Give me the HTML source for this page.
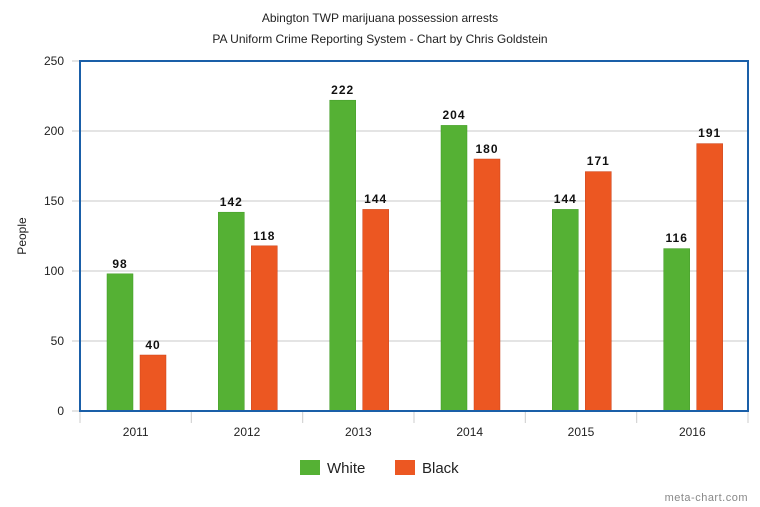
<!DOCTYPE html>
<html><head><meta charset="utf-8"><style>body{margin:0;background:#fff}svg{display:block}</style></head><body>
<svg width="760" height="507" xmlns="http://www.w3.org/2000/svg" font-family="Liberation Sans, sans-serif">
<rect width="760" height="507" fill="#fff"/>
<text x="380" y="22" font-size="12" text-anchor="middle" fill="#222">Abington TWP marijuana possession arrests</text>
<text x="380" y="43" font-size="12" text-anchor="middle" fill="#222">PA Uniform Crime Reporting System - Chart by Chris Goldstein</text>
<g stroke="#c8c8c8" stroke-width="1">
<line x1="72" y1="61" x2="748" y2="61"/><line x1="72" y1="131" x2="748" y2="131"/><line x1="72" y1="201" x2="748" y2="201"/><line x1="72" y1="271" x2="748" y2="271"/><line x1="72" y1="341" x2="748" y2="341"/><line x1="72" y1="411" x2="80" y2="411"/>
</g>
<g stroke="#ccc"><line x1="80" y1="411" x2="80" y2="423"/><line x1="191.3" y1="411" x2="191.3" y2="423"/><line x1="302.7" y1="411" x2="302.7" y2="423"/><line x1="414" y1="411" x2="414" y2="423"/><line x1="525.3" y1="411" x2="525.3" y2="423"/><line x1="636.7" y1="411" x2="636.7" y2="423"/><line x1="748" y1="411" x2="748" y2="423"/></g>
<g font-size="12" fill="#222" text-anchor="end">
<text x="64" y="65">250</text><text x="64" y="135">200</text><text x="64" y="205">150</text><text x="64" y="275">100</text><text x="64" y="345">50</text><text x="64" y="415">0</text></g>
<text transform="translate(26,236) rotate(-90)" font-size="12" text-anchor="middle" fill="#222">People</text>
<g font-size="12" fill="#222" text-anchor="middle">
<text x="135.7" y="436">2011</text><text x="247" y="436">2012</text><text x="358.3" y="436">2013</text><text x="469.7" y="436">2014</text><text x="581" y="436">2015</text><text x="692.3" y="436">2016</text></g>
<g id="bars">
<rect x="107" y="273.8" width="26" height="137.2" fill="#55b134" stroke="#3f9a22" stroke-width="0.5"/>
<rect x="140" y="355" width="26" height="56" fill="#ec5722" stroke="#c9421a" stroke-width="0.5"/>
<rect x="218.3" y="212.2" width="26" height="198.8" fill="#55b134" stroke="#3f9a22" stroke-width="0.5"/>
<rect x="251.3" y="245.8" width="26" height="165.2" fill="#ec5722" stroke="#c9421a" stroke-width="0.5"/>
<rect x="329.7" y="100.2" width="26" height="310.8" fill="#55b134" stroke="#3f9a22" stroke-width="0.5"/>
<rect x="362.7" y="209.4" width="26" height="201.6" fill="#ec5722" stroke="#c9421a" stroke-width="0.5"/>
<rect x="441" y="125.4" width="26" height="285.6" fill="#55b134" stroke="#3f9a22" stroke-width="0.5"/>
<rect x="474" y="159" width="26" height="252" fill="#ec5722" stroke="#c9421a" stroke-width="0.5"/>
<rect x="552.3" y="209.4" width="26" height="201.6" fill="#55b134" stroke="#3f9a22" stroke-width="0.5"/>
<rect x="585.3" y="171.6" width="26" height="239.4" fill="#ec5722" stroke="#c9421a" stroke-width="0.5"/>
<rect x="663.7" y="248.6" width="26" height="162.4" fill="#55b134" stroke="#3f9a22" stroke-width="0.5"/>
<rect x="696.7" y="143.6" width="26" height="267.4" fill="#ec5722" stroke="#c9421a" stroke-width="0.5"/>
</g>
<g font-size="12" font-weight="bold" fill="#111" text-anchor="middle" letter-spacing="1">
<text x="120" y="268">98</text><text x="153" y="349">40</text>
<text x="231.3" y="206">142</text><text x="264.3" y="240">118</text>
<text x="342.7" y="94">222</text><text x="375.7" y="203">144</text>
<text x="454" y="119">204</text><text x="487" y="153">180</text>
<text x="565.3" y="203">144</text><text x="598.3" y="165">171</text>
<text x="676.7" y="242">116</text><text x="709.7" y="137">191</text></g>
<rect x="80" y="61" width="668" height="350" fill="none" stroke="#1a5fa8" stroke-width="2"/>
<rect x="300" y="460" width="20" height="15" fill="#55b134"/>
<text x="327" y="473" font-size="15" fill="#222">White</text>
<rect x="395" y="460" width="20" height="15" fill="#ec5722"/>
<text x="422" y="473" font-size="15" fill="#222">Black</text>
<text x="748" y="501" font-size="11" fill="#888" text-anchor="end" letter-spacing="0.5">meta-chart.com</text>
</svg>
</body></html>
